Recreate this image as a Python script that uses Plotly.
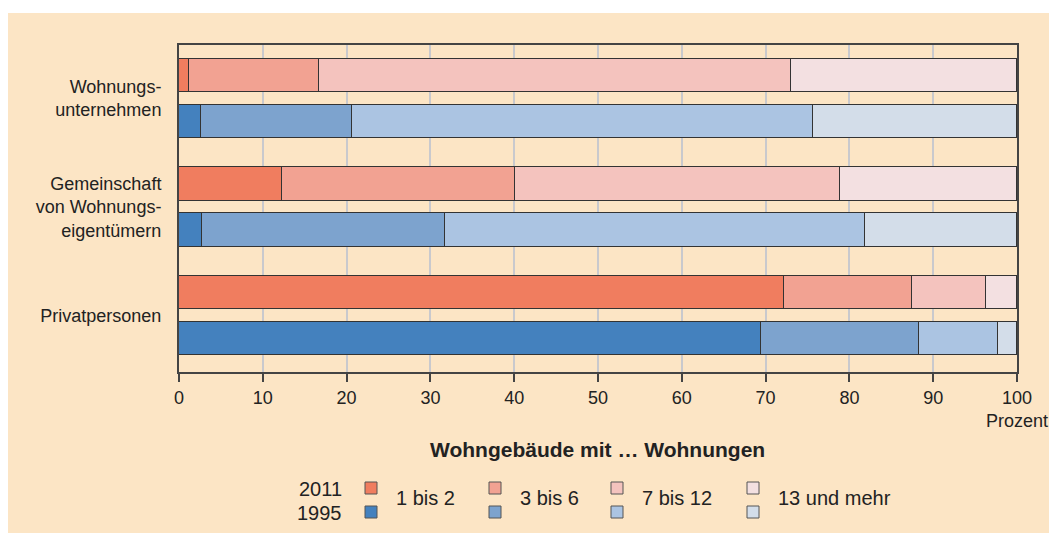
import plotly.graph_objs as go


GROUPS = ["Wohnungs-<br>unternehmen", "Gemeinschaft<br>von Wohnungs-<br>eigentümern", "Privatpersonen"]
YEARS = ["2011", "1995"]
CATEGORIES = ["1 bis 2", "3 bis 6", "7 bis 12", "13 und mehr"]

# shares in percent, one list per category, ordered like GROUPS
VALUES_2011 = {
    "1 bis 2": [1.2, 12.3, 72.2],
    "3 bis 6": [15.5, 27.8, 15.3],
    "7 bis 12": [56.3, 38.8, 8.8],
    "13 und mehr": [27.0, 21.1, 3.7],
}
VALUES_1995 = {
    "1 bis 2": [2.6, 2.7, 69.5],
    "3 bis 6": [18.0, 29.1, 18.8],
    "7 bis 12": [55.1, 50.1, 9.4],
    "13 und mehr": [24.3, 18.1, 2.3],
}
X_TICKS = list(range(0, 101, 10))

COLORS = {
    "2011": ["#F07D5F", "#F2A292", "#F4C3BE", "#F3E0E1"],
    "1995": ["#4481BE", "#7DA3CE", "#ABC4E2", "#D3DDE9"],
}
OFFSET = {"2011": -0.212, "1995": 0.212}
BAR_WIDTH = 0.31
FONT = "Liberation Sans, Arial, sans-serif"
TEXT = "#222222"

# the page body keeps its default 8px margin, so the figure is drawn 8px in
BODY = 8
W, H = 1057 - BODY, 533 - BODY
# plot area in page pixels
PL, PR, PT, PB = 179, 1017, 45, 372


def px_x(x):
    return (x - PL) / (PR - PL)


def px_y(y):
    return (PB - y) / (PB - PT)


fig = go.Figure()

for year, values in (("2011", VALUES_2011), ("1995", VALUES_1995)):
    for i, cat in enumerate(CATEGORIES):
        fig.add_trace(go.Bar(
            x=values[cat],
            y=[g + OFFSET[year] for g in range(len(GROUPS))],
            orientation="h", width=BAR_WIDTH,
            name=f"{year} {cat}",
            marker=dict(color=COLORS[year][i], line=dict(color="#333333", width=1)),
            showlegend=False, hoverinfo="x+name",
        ))

shapes = [
    # beige panel
    dict(type="rect", xref="paper", yref="paper", layer="below",
         x0=px_x(BODY), x1=px_x(1070), y0=px_y(545), y1=px_y(13),
         fillcolor="#FCE5C5", line=dict(width=0)),
]
annotations = [
    dict(text="Prozent", xref="paper", yref="paper", x=1.0, y=px_y(421),
         xanchor="center", yanchor="middle", showarrow=False,
         font=dict(size=18, color=TEXT)),
    dict(text="<b>Wohngebäude mit … Wohnungen</b>", xref="paper", yref="paper",
         x=px_x(597), y=px_y(449), xanchor="center", yanchor="middle",
         showarrow=False, font=dict(size=21, color=TEXT)),
]

# custom legend: year labels, two swatches per category, one label
for year, ypix in (("2011", 489), ("1995", 513)):
    annotations.append(dict(
        text=year, xref="paper", yref="paper", x=px_x(344), y=px_y(ypix),
        xanchor="right", yanchor="middle", showarrow=False,
        font=dict(size=20, color=TEXT)))

swatch_x = [371, 495, 617, 753]
for i, cat in enumerate(CATEGORIES):
    sx = swatch_x[i]
    for year, ypix in (("2011", 488), ("1995", 512)):
        shapes.append(dict(
            type="rect", xref="paper", yref="paper",
            x0=px_x(sx - 6), x1=px_x(sx + 6), y0=px_y(ypix + 6), y1=px_y(ypix - 6),
            fillcolor=COLORS[year][i], line=dict(color="#555555", width=1)))
    annotations.append(dict(
        text=cat, xref="paper", yref="paper", x=px_x(sx + 23), y=px_y(498),
        xanchor="left", yanchor="middle", showarrow=False,
        font=dict(size=20, color=TEXT)))

fig.update_layout(
    width=W, height=H,
    margin=dict(l=PL - BODY, r=1057 - PR, t=PT - BODY, b=533 - PB),
    paper_bgcolor="white", plot_bgcolor="#F8F5F0",
    barmode="stack", bargap=0,
    font=dict(family=FONT, size=18, color=TEXT),
    shapes=shapes, annotations=annotations,
)
fig.update_xaxes(
    range=[0, 100], tickvals=X_TICKS, ticks="outside", ticklen=8,
    tickwidth=1.5, tickcolor="#444444",
    showgrid=True, gridcolor="#C9C9CD", gridwidth=1.5,
    showline=True, linecolor="#444444", linewidth=2, mirror=True,
    zeroline=False, tickfont=dict(size=18, color=TEXT),
)
fig.update_yaxes(
    range=[2.521, -0.493], tickvals=list(range(len(GROUPS))), ticktext=GROUPS,
    ticks="", showgrid=False, zeroline=False, ticklabelstandoff=12,
    showline=True, linecolor="#444444", linewidth=2, mirror=True,
    tickfont=dict(size=18, color=TEXT),
)

fig.write_html("out.html")
